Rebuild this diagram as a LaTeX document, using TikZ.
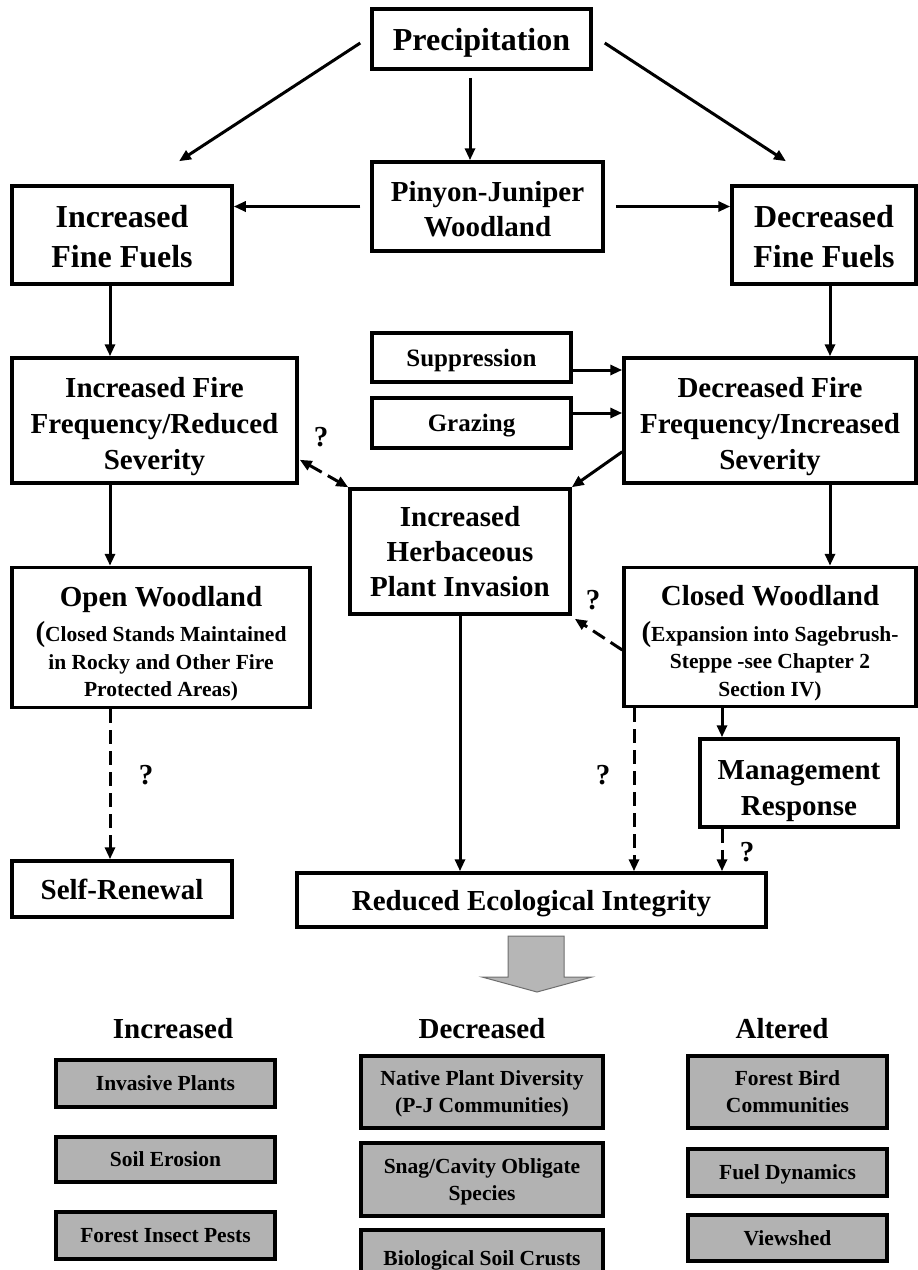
\documentclass[tikz,border=0pt]{standalone}
\usepackage{fontspec}
\setmainfont{Liberation Serif}
\usetikzlibrary{arrows.meta,calc}

\definecolor{boxgray}{RGB}{178,178,178}
\definecolor{arrowgray}{RGB}{182,182,182}
\definecolor{arrowedge}{RGB}{110,110,110}

\tikzset{
  box/.style={draw, line width=3.5pt, align=center, inner sep=0pt, text depth=0pt,
              font=\bfseries\fontsize{29}{36}\selectfont},
  bigbox/.style={box, font=\bfseries\fontsize{32}{40}\selectfont},
  midbox/.style={box, font=\bfseries\fontsize{25}{30}\selectfont},
  notebox/.style={box, font=\bfseries\fontsize{21.5}{27.5}\selectfont},
  greybox/.style={box, fill=boxgray, line width=3.5pt,
              font=\bfseries\fontsize{21.5}{27}\selectfont},
  heading/.style={inner sep=0pt, font=\bfseries\fontsize{29}{34}\selectfont},
  qmark/.style={inner sep=0pt, font=\bfseries\fontsize{29}{29}\selectfont},
  arr/.style={line width=3pt, -{Triangle[length=12pt,width=10pt]}},
  dasharr/.style={arr, dash pattern=on 14pt off 7pt},
}

\newcommand{\bigparen}{{\fontsize{29}{27.5}\selectfont(}}
\newcommand{\topstrut}[1]{\rule{0pt}{#1}}

\begin{document}
\begin{tikzpicture}[x=1pt,y=-1pt]
\useasboundingbox (0,0) rectangle (918,1270);

% columns and rows used by straight connectors
\coordinate (colL) at (110,0);
\coordinate (colR) at (830,0);
\coordinate (colD) at (634,0);
\coordinate (colM) at (722,0);
\coordinate (rowS) at (0,370);
\coordinate (rowG) at (0,413);

% upper part of the flow chart
\node[bigbox, minimum width=219pt, minimum height=60pt] (prec) at (481.5,39) {Precipitation};
\node[box, minimum width=231pt, minimum height=89pt, font=\bfseries\fontsize{29}{35}\selectfont] (pj) at (487.5,206.5) {\topstrut{24pt}Pinyon-Juniper\\Woodland};
\node[bigbox, minimum width=220pt, minimum height=98pt] (iff) at (122,235) {\topstrut{25pt}Increased\\Fine Fuels};
\node[bigbox, minimum width=184pt, minimum height=98pt] (dff) at (824,235) {\topstrut{25pt}Decreased\\Fine Fuels};

\node[midbox, minimum width=199pt, minimum height=49pt] (supp) at (471.5,357.5) {Suppression};
\node[midbox, minimum width=199pt, minimum height=50pt] (graz) at (471.5,423) {Grazing};

\node[box, minimum width=285pt, minimum height=125pt] (iffr) at (154.5,420.5) {\topstrut{26pt}Increased Fire\\Frequency/Reduced\\Severity};
\node[box, minimum width=292pt, minimum height=125pt] (dffr) at (770,420.5) {\topstrut{26pt}Decreased Fire\\Frequency/Increased\\Severity};
\node[box, minimum width=220pt, minimum height=125pt, font=\bfseries\fontsize{29}{35}\selectfont] (herb) at (460,551.5) {Increased\\Herbaceous\\Plant Invasion};

\node[notebox, minimum width=298pt, minimum height=140pt] (open) at (161,637.5)
  {\topstrut{28pt}{\fontsize{29}{27.5}\selectfont Open Woodland}\\[8pt]\bigparen Closed Stands Maintained\\in Rocky and Other Fire\\Protected Areas)};
\node[notebox, minimum width=292pt, minimum height=139pt] (closed) at (770,637)
  {\topstrut{28pt}{\fontsize{29}{27.5}\selectfont Closed Woodland}\\[8pt]\bigparen Expansion into Sagebrush-\\Steppe -see Chapter 2\\Section IV)};

\node[box, minimum width=220pt, minimum height=56pt] (self) at (122,889) {Self-Renewal};
\node[box, minimum width=198pt, minimum height=88pt] (mgmt) at (799,783) {\topstrut{28pt}Management\\Response};
\node[box, minimum width=469pt, minimum height=54pt] (red) at (531.5,900) {Reduced Ecological Integrity};

% question marks
\node[qmark] (q1) at (321,437) {?};
\node[qmark] (q2) at (593,600) {?};
\node[qmark] (q3) at (146,775) {?};
\node[qmark] (q4) at (603,775) {?};
\node[qmark] (q5) at (747,852) {?};

% connectors
\draw[arr] ($(prec.west)+(-10,4)$) -- ($(iff.north)+(57,-23)$);
\draw[arr] ($(prec.east)+(12,4)$) -- ($(dff.north)+(-38,-23)$);
\draw[arr] ($(prec.south)+(-11.5,7)$) -- ($(pj.north)+(-17.5,0)$);
\draw[arr] ($(pj.west)+(-10,0)$) -- (pj.west -| iff.east);
\draw[arr] ($(pj.east)+(11,0)$) -- (pj.east -| dff.west);

\draw[arr] (iff.south -| colL) -- (iffr.north -| colL);
\draw[arr] (dff.south -| colR) -- (dffr.north -| colR);
\draw[arr] (supp.east |- rowS) -- (dffr.west |- rowS);
\draw[arr] (graz.east |- rowG) -- (dffr.west |- rowG);
\draw[arr] ($(dffr.south west)+(0,-33)$) -- (herb.north east);
\draw[dasharr, {Triangle[length=12pt,width=10pt]}-{Triangle[length=12pt,width=10pt]}]
  ($(iffr.south east)+(1,-25)$) -- (herb.north west);

\draw[arr] (iffr.south -| colL) -- (open.north -| colL);
\draw[arr] (dffr.south -| colR) -- (closed.north -| colR);
\draw[dasharr] ($(closed.west)+(0,13)$) -- ($(herb.south east)+(3,3)$);

\draw[dasharr] (open.south -| colL) -- (self.north -| colL);
\draw[arr] (herb.south) -- (red.north -| herb.south);
\draw[dasharr] (closed.south -| colD) -- (red.north -| colD);
\draw[arr] (closed.south -| colM) -- (mgmt.north -| colM);
\draw[dasharr] (mgmt.south -| colM) -- (red.north -| colM);

% broad grey arrow towards the outcome lists
\draw[fill=arrowgray, draw=arrowedge, line width=1pt]
  (508,936) -- (564,936) -- (564,977) -- (592,977) -- (537,992) -- (482,977) -- (508,977) -- cycle;

% outcome lists
\node[heading] (hinc) at (173,1029) {Increased};
\node[heading] (hdec) at (482,1029) {Decreased};
\node[heading] (halt) at (782,1029) {Altered};

\node[greybox, minimum width=219pt, minimum height=47pt] (inv) at (165.5,1083.5) {Invasive Plants};
\node[greybox, minimum width=219pt, minimum height=45pt] (soil) at (165.5,1159.5) {Soil Erosion};
\node[greybox, minimum width=219pt, minimum height=47pt] (pest) at (165.5,1235.5) {Forest Insect Pests};

\node[greybox, minimum width=242pt, minimum height=72pt] (native) at (482,1092) {Native Plant Diversity\\(P-J Communities)};
\node[greybox, minimum width=242pt, minimum height=73pt] (snag) at (482,1179.5) {Snag/Cavity Obligate\\Species};
\node[greybox, minimum width=242pt, minimum height=56pt] (bio) at (482,1258) {Biological Soil Crusts};

\node[greybox, minimum width=199pt, minimum height=72pt] (bird) at (787.5,1092) {Forest Bird\\Communities};
\node[greybox, minimum width=199pt, minimum height=47pt] (fuel) at (787.5,1172.5) {Fuel Dynamics};
\node[greybox, minimum width=199pt, minimum height=46pt] (view) at (787.5,1238) {Viewshed};
\end{tikzpicture}
\end{document}
